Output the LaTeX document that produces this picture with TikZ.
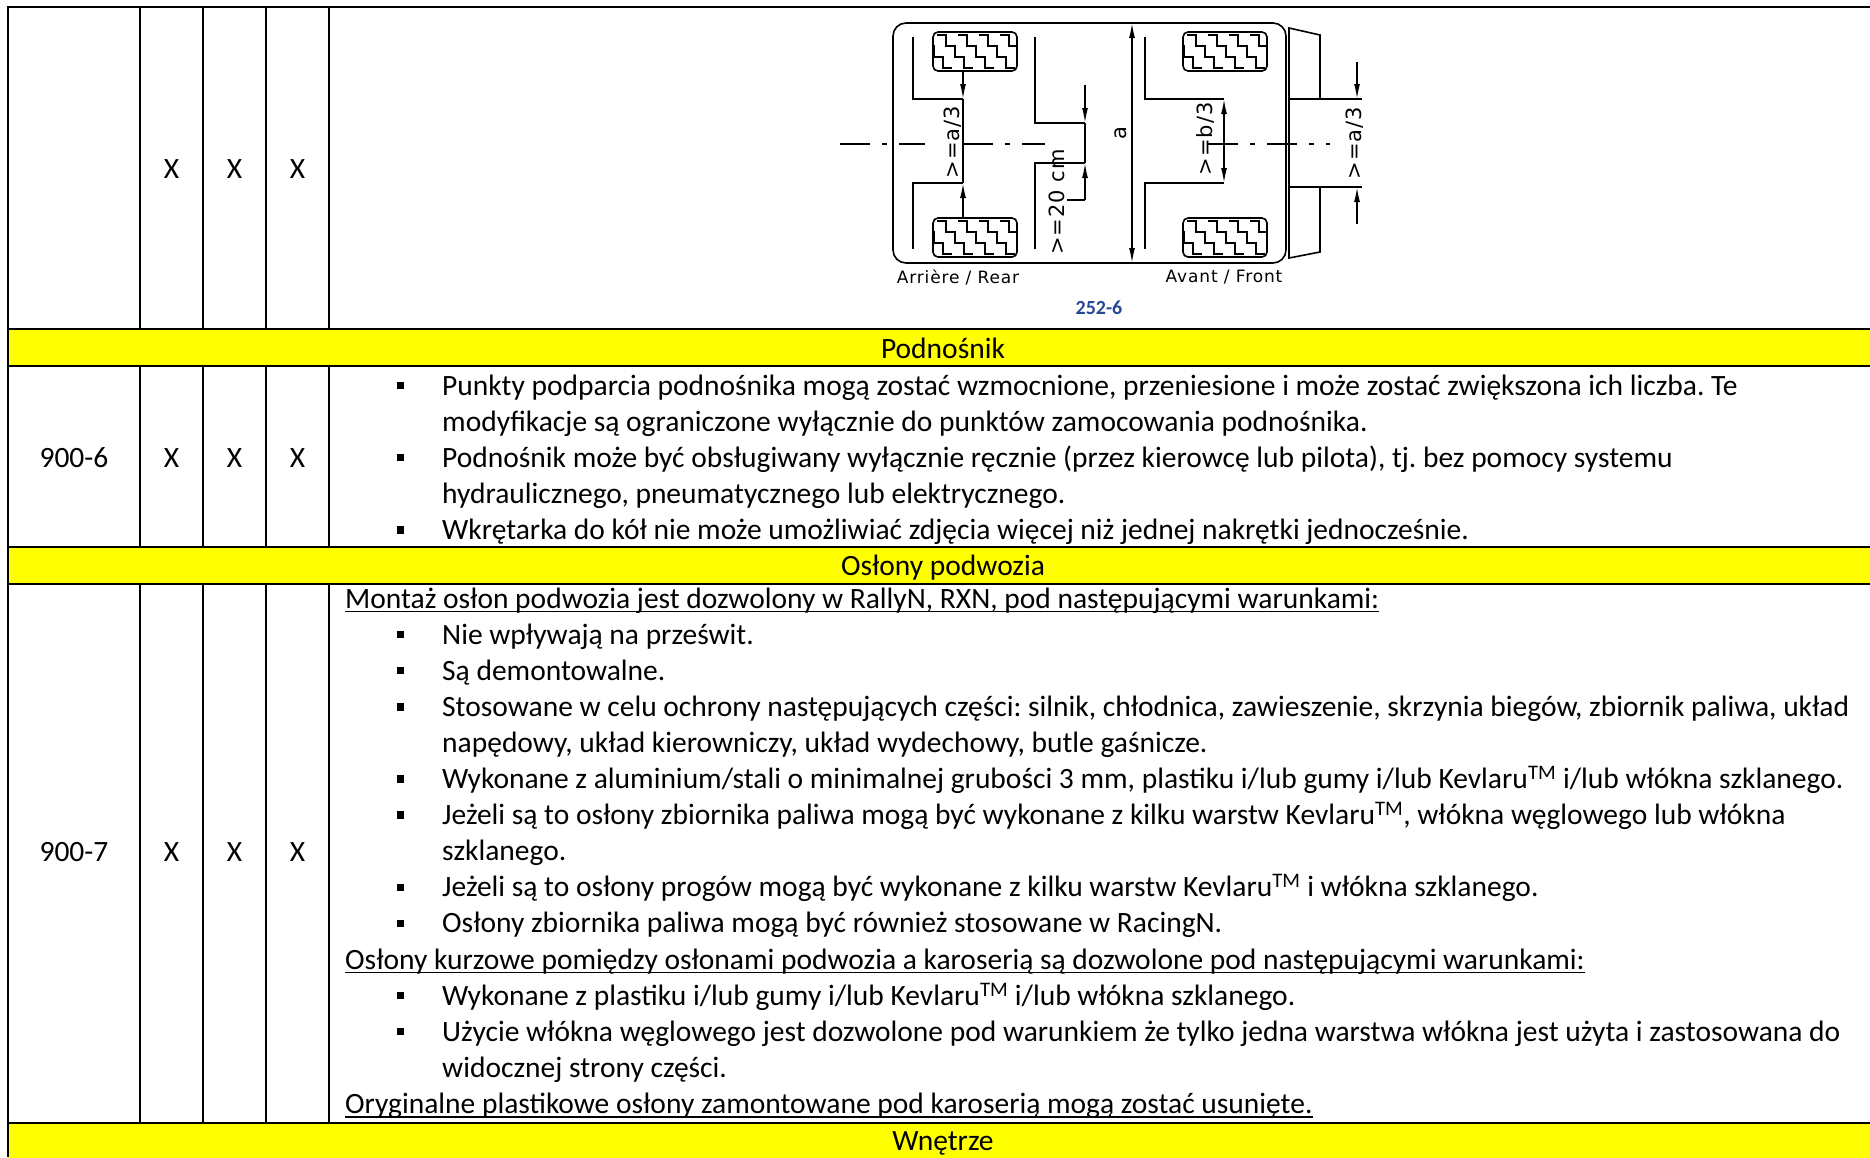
\documentclass[tikz,border=0pt]{standalone}
\usepackage{fontspec}
\setmainfont{Carlito}
\newfontfamily\isofont[LetterSpace=5]{DejaVu Sans}
\usetikzlibrary{arrows.meta}
\definecolor{bandyellow}{RGB}{255,255,0}
\definecolor{figblue}{RGB}{40,72,150}
\frenchspacing
\begin{document}
\begin{tikzpicture}[x=1pt,y=-1pt,
  grid/.style={line width=2.8pt},
  fig/.style={line width=1.6pt},
  txt/.style={anchor=base west, inner sep=0pt, font=\fontsize{29.5}{34}\selectfont},
  ctxt/.style={anchor=base, inner sep=0pt, font=\fontsize{29.5}{34}\selectfont},
  bul/.style={fill=black, inner sep=0pt, minimum width=7pt, minimum height=7.5pt},
  ul/.style={line width=1.6pt},
  dimlbl/.style={inner sep=0pt, rotate=90, font=\isofont\fontsize{21}{24}\selectfont},
  figlbl/.style={inner sep=0pt, font=\isofont\fontsize{17}{20}\selectfont},
  dimarr/.style={fig, -{Latex[length=15pt,width=6pt]}},
  dimboth/.style={fig, {Latex[length=15pt,width=6pt]}-{Latex[length=15pt,width=6pt]}},
  centre/.style={line width=1.3pt, dash pattern=on 30pt off 12pt on 5pt off 12pt},
  tyre/.pic={
    \draw[fig, rounded corners=5pt] (0,0) rectangle (84,39);
    \begin{scope}
      \clip[rounded corners=5pt] (0,0) rectangle (84,39);
      \foreach \s in {-17,4,25,46,67} {
        \draw[line width=1.4pt] (\s,3) -- ++(9,0) -- ++(0,11) -- ++(9,0) -- ++(0,11) -- ++(9,0) -- ++(0,11) -- ++(9,0);
      }
    \end{scope}
  }
]
\useasboundingbox (0,0) rectangle (1870,1157);
\fill[white] (0,0) rectangle (1870,1157);
% yellow bands
\fill[bandyellow] (8,329) rectangle (1870,366);
\fill[bandyellow] (8,547) rectangle (1870,584);
\fill[bandyellow] (8,1123) rectangle (1870,1160);
% grid
\draw[grid] (6.6,7) -- (823,7);
\draw[fig] (823,7) -- (1380,7);
\draw[grid] (1380,7) -- (1870,7);
\draw[grid] (8,7) -- (8,1157);
\foreach \y in {329,366,547,584,1123} { \draw[grid] (8,\y) -- (1870,\y); }
\foreach \x in {140,203,266,329} {
  \draw[grid] (\x,7) -- (\x,329);
  \draw[grid] (\x,366) -- (\x,547);
  \draw[grid] (\x,584) -- (\x,1123);
}
% ---------- figure 252-6 ----------
\draw[fig, rounded corners=13pt] (893,23) rectangle (1286,263);
\draw[fig] (1320,99) -- (1320,35) -- (1289,28) -- (1289,258) -- (1320,252) -- (1320,187);
\draw[fig] (1289,99) -- (1362,99);
\draw[fig] (1289,187) -- (1362,187);
\draw[dimarr] (1357,62) -- (1357,99);
\draw[dimarr] (1357,224) -- (1357,187);
\node[dimlbl] (lblA2) at (1355,143) {>=a/3};
\pic at (933,32) {tyre};
\pic at (933,218) {tyre};
\pic at (1183,32) {tyre};
\pic at (1183,218) {tyre};
% left frames
\draw[fig] (913,37) -- (913,99) -- (963,99);
\draw[fig] (913,249) -- (913,183) -- (963,183);
\draw[fig] (963,99) -- (963,183);
\draw[dimarr] (963,71) -- (963,99);
\draw[dimarr] (963,218) -- (963,183);
\node[dimlbl] (lblA1) at (953,142) {>=a/3};
% middle frames
\draw[fig] (1035,37) -- (1035,123) -- (1085,123);
\draw[fig] (1035,249) -- (1035,163) -- (1085,163);
\draw[fig] (1085,123) -- (1085,163);
\draw[dimarr] (1085,85) -- (1085,123);
\draw[dimarr] (1085,200) -- (1085,163);
\draw[fig] (1085,200) -- (1067,200);
\node[dimlbl] (lbl20) at (1057,202) {>=20 cm};
% a dimension
\draw[dimboth] (1132,23) -- (1132,263);
\node[dimlbl] (lblAa) at (1121,133) {a};
% right frames
\draw[fig] (1145,37) -- (1145,99) -- (1224,99);
\draw[fig] (1145,249) -- (1145,183) -- (1224,183);
\draw[dimboth] (1224,99) -- (1224,183);
\node[dimlbl] (lblB) at (1205,139) {>=b/3};
% centre lines
\draw[centre] (840,144) -- (925,144);
\draw[centre] (963,144) -- (1045,144);
\draw[centre] (1208,144) -- (1330,144);
% figure labels
\node[figlbl] (lblRear) at (958,277) {Arrière / Rear};
\node[figlbl] (lblFront) at (1224,277) {Avant / Front};
\node[inner sep=0pt, text=figblue, font=\bfseries\fontsize{20}{24}\selectfont] (lblNum) at (1099,308) {252-6};
% ---------- first row ----------
\node[ctxt] (x1a) at (171.5,178) {X};
\node[ctxt] (x1b) at (234.5,178) {X};
\node[ctxt] (x1c) at (297.5,178) {X};
% ---------- band headings ----------
\node[ctxt] (hPod) at (943,358) {Podnośnik};
\node[ctxt] (hOsl) at (943,575) {Osłony podwozia};
\node[ctxt] (hWne) at (943,1150) {Wnętrze};
% ---------- 900-6 ----------
\node[ctxt] (n6) at (74,467) {900-6};
\node[ctxt] (x6a) at (171.5,467) {X};
\node[ctxt] (x6b) at (234.5,467) {X};
\node[ctxt] (x6c) at (297.5,467) {X};
\node[bul] (p0) at (400,385.5) {};
\node[txt] (s0) at (442,395) {Punkty podparcia podnośnika mogą zostać wzmocnione, przeniesione i może zostać zwiększona ich liczba. Te};
\node[txt] (s1) at (442,431.1) {modyfikacje są ograniczone wyłącznie do punktów zamocowania podnośnika.};
\node[bul] (p2) at (400,457.7) {};
\node[txt] (s2) at (442,467.2) {Podnośnik może być obsługiwany wyłącznie ręcznie (przez kierowcę lub pilota), tj. bez pomocy systemu};
\node[txt] (s3) at (442,503.3) {hydraulicznego, pneumatycznego lub elektrycznego.};
\node[bul] (p4) at (400,529.9) {};
\node[txt] (s4) at (442,539.4) {Wkrętarka do kół nie może umożliwiać zdjęcia więcej niż jednej nakrętki jednocześnie.};
% ---------- 900-7 ----------
\node[ctxt] (n7) at (74,861) {900-7};
\node[ctxt] (x7a) at (171.5,861) {X};
\node[ctxt] (x7b) at (234.5,861) {X};
\node[ctxt] (x7c) at (297.5,861) {X};
\node[txt] (t0) at (345,608) {Montaż osłon podwozia jest dozwolony w RallyN, RXN, pod następującymi warunkami:};
\draw[ul] ([yshift=-3.5pt]t0.base west) -- ([yshift=-3.5pt]t0.base east);
\node[bul] (q1) at (400,634.6) {};
\node[txt] (t1) at (442,644.1) {Nie wpływają na prześwit.};
\node[bul] (q2) at (400,670.7) {};
\node[txt] (t2) at (442,680.2) {Są demontowalne.};
\node[bul] (q3) at (400,706.8) {};
\node[txt] (t3) at (442,716.3) {Stosowane w celu ochrony następujących części: silnik, chłodnica, zawieszenie, skrzynia biegów, zbiornik paliwa, układ};
\node[txt] (t4) at (442,752.4) {napędowy, układ kierowniczy, układ wydechowy, butle gaśnicze.};
\node[bul] (q5) at (400,779) {};
\node[txt] (t5) at (442,788.5) {Wykonane z aluminium/stali o minimalnej grubości 3 mm, plastiku i/lub gumy i/lub Kevlaru\textsuperscript{TM} i/lub włókna szklanego.};
\node[bul] (q6) at (400,815.1) {};
\node[txt] (t6) at (442,824.6) {Jeżeli są to osłony zbiornika paliwa mogą być wykonane z kilku warstw Kevlaru\textsuperscript{TM}, włókna węglowego lub włókna};
\node[txt] (t7) at (442,860.7) {szklanego.};
\node[bul] (q8) at (400,887.3) {};
\node[txt] (t8) at (442,896.8) {Jeżeli są to osłony progów mogą być wykonane z kilku warstw Kevlaru\textsuperscript{TM} i włókna szklanego.};
\node[bul] (q9) at (400,923.4) {};
\node[txt] (t9) at (442,932.9) {Osłony zbiornika paliwa mogą być również stosowane w RacingN.};
\node[txt] (t10) at (345,969) {Osłony kurzowe pomiędzy osłonami podwozia a karoserią są dozwolone pod następującymi warunkami:};
\draw[ul] ([yshift=-3.5pt]t10.base west) -- ([yshift=-3.5pt]t10.base east);
\node[bul] (q11) at (400,995.6) {};
\node[txt] (t11) at (442,1005.1) {Wykonane z plastiku i/lub gumy i/lub Kevlaru\textsuperscript{TM} i/lub włókna szklanego.};
\node[bul] (q12) at (400,1031.7) {};
\node[txt] (t12) at (442,1041.2) {Użycie włókna węglowego jest dozwolone pod warunkiem że tylko jedna warstwa włókna jest użyta i zastosowana do};
\node[txt] (t13) at (442,1077.3) {widocznej strony części.};
\node[txt] (t14) at (345,1113.4) {Oryginalne plastikowe osłony zamontowane pod karoserią mogą zostać usunięte.};
\draw[ul] ([yshift=-3.5pt]t14.base west) -- ([yshift=-3.5pt]t14.base east);
\end{tikzpicture}
\end{document}
